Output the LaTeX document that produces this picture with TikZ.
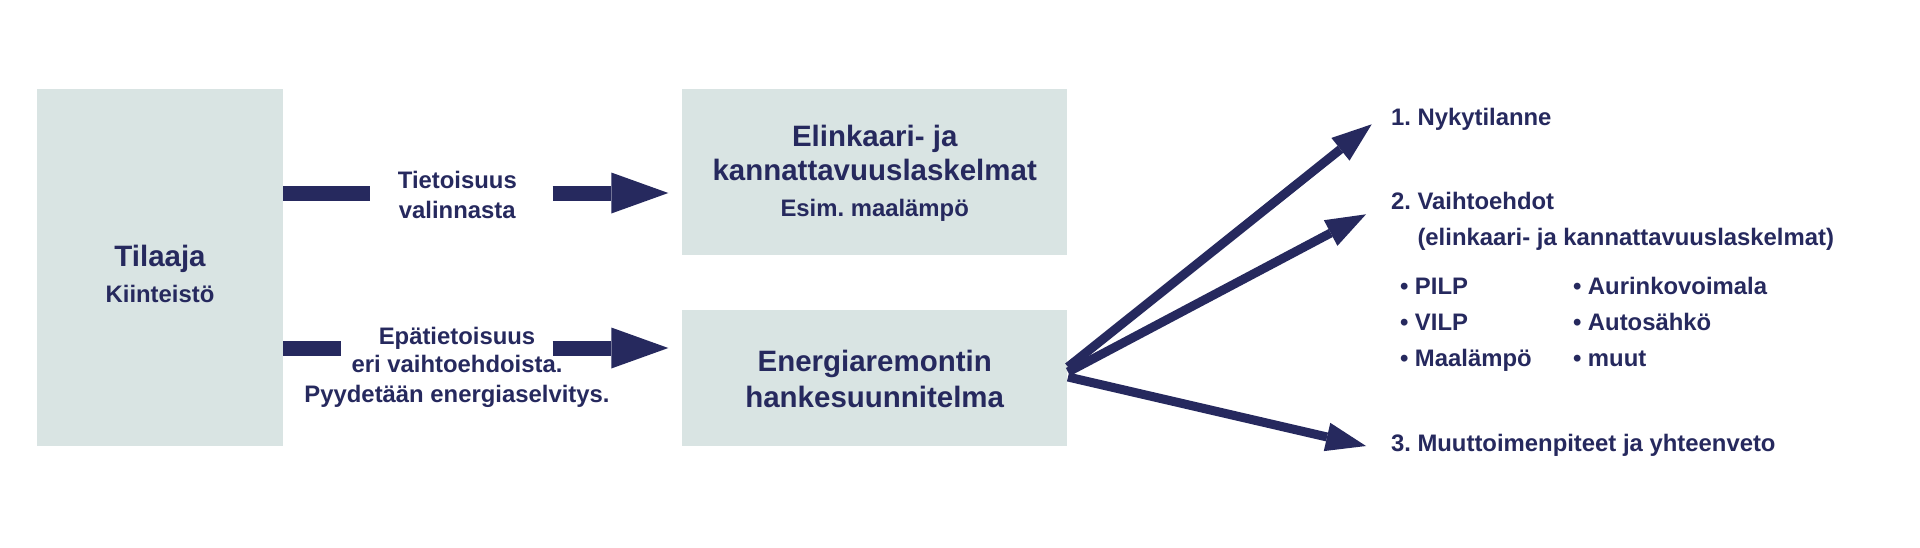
\documentclass[tikz,border=0pt]{standalone}
\usepackage{fontspec}
\setmainfont{Liberation Sans}
\usetikzlibrary{arrows.meta}
\definecolor{navy}{RGB}{38,41,94}
\definecolor{boxfill}{RGB}{217,228,227}
\frenchspacing
\begin{document}
\frenchspacing
\begin{tikzpicture}[x=0.75pt,y=-0.75pt,
  box/.style={rectangle, fill=boxfill, draw=none, inner sep=0pt, outer sep=0pt},
  big/.style={font=\fontsize{22.1pt}{26pt}\selectfont\bfseries, text=navy, inner sep=0pt, outer sep=0pt, anchor=base},
  small/.style={font=\fontsize{17.9pt}{21pt}\selectfont\bfseries, text=navy, inner sep=0pt, outer sep=0pt, anchor=base},
  item/.style={small, anchor=base west},
  bar/.style={draw=navy, line width=11.25pt},
  blockarrow/.style={bar, -{Triangle[length=42.75pt,width=30.75pt,line width=0pt]}},
  thinarrow/.style={draw=navy, line width=6.75pt, -{Triangle[length=30pt,width=21.75pt,line width=0pt]}}]

\useasboundingbox[fill=white] (0,0) rectangle (1920,547);

% boxes
\node[box, minimum width=184.5pt, minimum height=267.75pt] (tilaaja) at (160,267.5) {};
\node[box, minimum width=289.1pt, minimum height=124.3pt] (elink) at (874.75,171.85) {};
\node[box, minimum width=289.1pt, minimum height=102pt] (hs) at (874.75,378) {};

% box texts
\node[big] (t1) at (160,266.7) {Tilaaja};
\node[small] (t2) at (160,302.7) {Kiinteistö};
\node[big] (e1) at (874.7,146) {Elinkaari- ja};
\node[big] (e2) at (874.7,180.7) {kannattavuuslaskelmat};
\node[small] (e3) at (874.7,216.7) {Esim. maalämpö};
\node[big] (h1) at (874.7,371.7) {Energiaremontin};
\node[big] (h2) at (874.7,407.3) {hankesuunnitelma};

% middle labels
\node[small] (l1) at (457.3,188.3) {Tietoisuus};
\node[small] (l2) at (457.3,218.3) {valinnasta};
\node[small] (l3) at (457,344.3) {Epätietoisuus};
\node[small] (l4) at (457,372.7) {eri vaihtoehdoista.};
\node[small] (l5) at (457,402.3) {Pyydetään energiaselvitys.};

% left connectors
\coordinate (b1) at (370,193);
\coordinate (a1) at (552.7,193);
\coordinate (b2) at (341.3,348);
\coordinate (a2) at (552.7,348);
\draw[bar] (b1 -| tilaaja.east) -- (b1);
\draw[blockarrow, shorten >=10.3pt] (a1) -- (a1 -| elink.west);
\draw[bar] (b2 -| tilaaja.east) -- (b2);
\draw[blockarrow, shorten >=10.3pt] (a2) -- (a2 -| hs.west);

% right texts
\node[item] (n1) at (1391,125.7) {1. Nykytilanne};
\node[item] (n2) at (1391,209) {2. Vaihtoehdot};
\node[item] (n2b) at (1417.5,245) {(elinkaari- ja kannattavuuslaskelmat)};
\node[item] (p1) at (1400,294) {• PILP};
\node[item] (p2) at (1400,330) {• VILP};
\node[item] (p3) at (1400,366) {• Maalämpö};
\node[item] (q1) at (1573,294) {• Aurinkovoimala};
\node[item] (q2) at (1573,330) {• Autosähkö};
\node[item] (q3) at (1573,366) {• muut};
\node[item] (n3) at (1391,451.7) {3. Muuttoimenpiteet ja yhteenveto};

% right connectors
\coordinate (h1s) at ([shift={(0.5,-11)}]hs.east);
\coordinate (h2s) at ([shift={(0.5,-6)}]hs.east);
\coordinate (h3s) at ([shift={(0.5,-1)}]hs.east);
\draw[thinarrow] (h1s) -- ([shift={(-19.3,-1.4)}]n1.base west);
\draw[thinarrow] (h2s) -- ([shift={(-25,5.3)}]n2.base west);
\draw[thinarrow] (h3s) -- ([shift={(-25,-5.7)}]n3.base west);
\end{tikzpicture}
\end{document}
